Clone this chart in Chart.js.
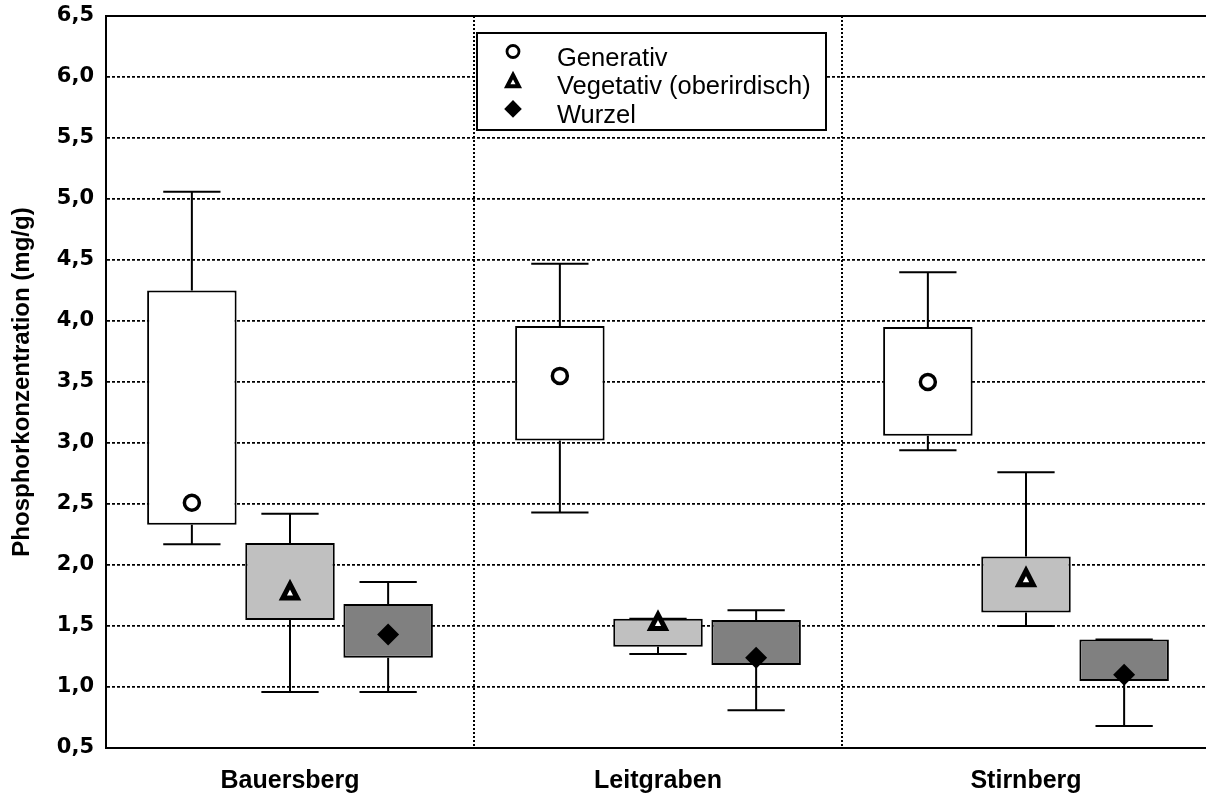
<!DOCTYPE html>
<html>
<head>
<meta charset="utf-8">
<title>Phosphorkonzentration</title>
<script src="https://cdn.jsdelivr.net/npm/chart.js@4.4.1/dist/chart.umd.min.js"></script>
<style>
  html, body { margin: 0; padding: 0; background: #fff; overflow: hidden; }
</style>
</head>
<body>
<canvas id="boxChart" width="1216" height="794"></canvas>
<script>
const sites = ['Bauersberg', 'Leitgraben', 'Stirnberg'];
const seriesNames = ['Generativ', 'Vegetativ (oberirdisch)', 'Wurzel'];
const yTicks = [0.5, 1.0, 1.5, 2.0, 2.5, 3.0, 3.5, 4.0, 4.5, 5.0, 5.5, 6.0, 6.5];

// Generativ
const genMin    = [2.17, 2.43, 2.94];
const genQ1     = [2.33, 3.02, 3.06];
const genQ3     = [4.25, 3.96, 3.95];
const genMax    = [5.06, 4.47, 4.40];
const genMedian = [2.51, 3.55, 3.50];

// Vegetativ (oberirdisch)
const vegMin    = [0.96, 1.27, 1.50];
const vegQ1     = [1.55, 1.33, 1.61];
const vegQ3     = [2.18, 1.56, 2.07];
const vegMax    = [2.42, 1.56, 2.76];
const vegMedian = [1.79, 1.54, 1.90];

// Wurzel
const wurMin    = [0.96, 0.81, 0.68];
const wurQ1     = [1.24, 1.18, 1.05];
const wurQ3     = [1.68, 1.55, 1.39];
const wurMax    = [1.86, 1.63, 1.39];
const wurMedian = [1.43, 1.24, 1.10];

function boxSet(label, q1, q3, lo, hi, med, fill, marker) {
    return {
        label: label,
        data: q1.map((v, i) => [v, q3[i]]),
        whiskerLow: lo,
        whiskerHigh: hi,
        median: med,
        marker: marker,
        backgroundColor: fill,
        borderColor: '#000',
        borderWidth: 2,
        borderSkipped: false,
        barPercentage: 0.912,
        categoryPercentage: 0.8
    };
}

// marker shapes, drawn centred on (x, y)
function drawMarker(ctx, kind, x, y, s) {
    ctx.save();
    ctx.strokeStyle = '#000';
    ctx.fillStyle = '#fff';
    ctx.lineJoin = 'miter';
    if (kind === 'circle') {
        ctx.lineWidth = 3.5 * s;
        ctx.beginPath();
        ctx.arc(x, y, 7.5 * s, 0, Math.PI * 2);
        ctx.fill();
        ctx.stroke();
    } else if (kind === 'triangle') {
        ctx.lineWidth = 5 * s;
        ctx.beginPath();
        ctx.moveTo(x, y - 6.5 * s);
        ctx.lineTo(x + 7.2 * s, y + 7.5 * s);
        ctx.lineTo(x - 7.2 * s, y + 7.5 * s);
        ctx.closePath();
        ctx.fill();
        ctx.stroke();
    } else {
        ctx.fillStyle = '#000';
        ctx.beginPath();
        ctx.moveTo(x, y - 11 * s);
        ctx.lineTo(x + 11 * s, y);
        ctx.lineTo(x, y + 11 * s);
        ctx.lineTo(x - 11 * s, y);
        ctx.closePath();
        ctx.fill();
    }
    ctx.restore();
}

// whiskers go on right after each box
const whiskers = {
    id: 'whiskers',
    afterDatasetDraw(chart, args) {
        const ds = chart.data.datasets[args.index];
        const y = chart.scales.y;
        const ctx = chart.ctx;
        ctx.save();
        ctx.strokeStyle = '#000';
        ctx.lineWidth = 2;
        args.meta.data.forEach((bar, i) => {
            const half = bar.width * 0.32;
            const yLo = y.getPixelForValue(ds.whiskerLow[i]);
            const yHi = y.getPixelForValue(ds.whiskerHigh[i]);
            const yQ1 = y.getPixelForValue(ds.data[i][0]);
            const yQ3 = y.getPixelForValue(ds.data[i][1]);
            ctx.beginPath();
            ctx.moveTo(bar.x, yQ3);
            ctx.lineTo(bar.x, yHi);
            ctx.moveTo(bar.x - half, yHi);
            ctx.lineTo(bar.x + half, yHi);
            ctx.moveTo(bar.x, yQ1);
            ctx.lineTo(bar.x, yLo);
            ctx.moveTo(bar.x - half, yLo);
            ctx.lineTo(bar.x + half, yLo);
            ctx.stroke();
        });
        ctx.restore();
    },
    afterDatasetsDraw(chart) {
        const y = chart.scales.y;
        chart.data.datasets.forEach((ds, d) => {
            chart.getDatasetMeta(d).data.forEach((bar, i) => {
                drawMarker(chart.ctx, ds.marker, bar.x, y.getPixelForValue(ds.median[i]), 1);
            });
        });
    },
    afterDraw(chart) {
        const ctx = chart.ctx;
        const area = chart.chartArea;
        ctx.save();
        // top frame line
        ctx.strokeStyle = '#000';
        ctx.lineWidth = 2;
        ctx.beginPath();
        ctx.moveTo(area.left, area.top);
        ctx.lineTo(area.right, area.top);
        ctx.stroke();

        // legend
        const lx = 477, ly = 33, lw = 349, lh = 97;
        ctx.fillStyle = '#fff';
        ctx.fillRect(lx, ly, lw, lh);
        ctx.strokeRect(lx, ly, lw, lh);
        ctx.fillStyle = '#000';
        ctx.font = '25.5px "Liberation Sans", Arial, sans-serif';
        ctx.textBaseline = 'alphabetic';
        ctx.textAlign = 'left';
        chart.data.datasets.forEach((ds, d) => {
            const base = 65.5 + d * 28.7;
            drawMarker(ctx, ds.marker, 513, base - 14, 0.8);
            ctx.fillText(seriesNames[d], 557, base);
        });
        ctx.restore();
    }
};

new Chart(document.getElementById('boxChart'), {
    type: 'bar',
    data: {
        labels: sites,
        datasets: [
            boxSet(seriesNames[0], genQ1, genQ3, genMin, genMax, genMedian, '#ffffff', 'circle'),
            boxSet(seriesNames[1], vegQ1, vegQ3, vegMin, vegMax, vegMedian, '#c0c0c0', 'triangle'),
            boxSet(seriesNames[2], wurQ1, wurQ3, wurMin, wurMax, wurMedian, '#808080', 'diamond')
        ]
    },
    options: {
        responsive: false,
        animation: false,
        layout: {
            padding: { top: 16, right: 6, left: 0, bottom: 0 }
        },
        scales: {
            x: {
                offset: true,
                grid: {
                    display: true,
                    offset: true,
                    color: '#000',
                    lineWidth: 2,
                    drawTicks: false
                },
                border: { display: true, color: '#000', width: 2, dash: [2, 2] },
                ticks: {
                    color: '#000',
                    padding: 18,
                    font: { family: '"Liberation Sans", Arial, sans-serif', weight: 'bold', size: 25 }
                },
                afterFit: function (scale) {
                    scale.height = 46;
                }
            },
            y: {
                min: 0.5,
                max: 6.5,
                afterBuildTicks: function (scale) {
                    scale.ticks = yTicks.map(v => ({ value: v }));
                },
                grid: {
                    color: '#000',
                    lineWidth: 1.7,
                    drawTicks: false
                },
                border: { display: true, color: '#000', width: 2, dash: [3, 2] },
                ticks: {
                    color: '#000',
                    padding: 12,
                    font: { family: '"DejaVu Sans", sans-serif', weight: 'bold', size: 21 },
                    callback: function (value) {
                        return value.toFixed(1).replace('.', ',');
                    }
                },
                title: {
                    display: true,
                    text: 'Phosphorkonzentration (mg/g)',
                    color: '#000',
                    padding: { top: 8, bottom: 0 },
                    font: { family: '"Liberation Sans", Arial, sans-serif', weight: 'bold', size: 24 }
                },
                afterFit: function (scale) {
                    scale.width = 106;
                    // keep the plot top at the layout padding
                    scale.paddingTop = 0;
                    scale.paddingBottom = 0;
                }
            }
        },
        plugins: {
            legend: { display: false },
            tooltip: { enabled: false }
        }
    },
    plugins: [whiskers]
});
</script>
</body>
</html>
